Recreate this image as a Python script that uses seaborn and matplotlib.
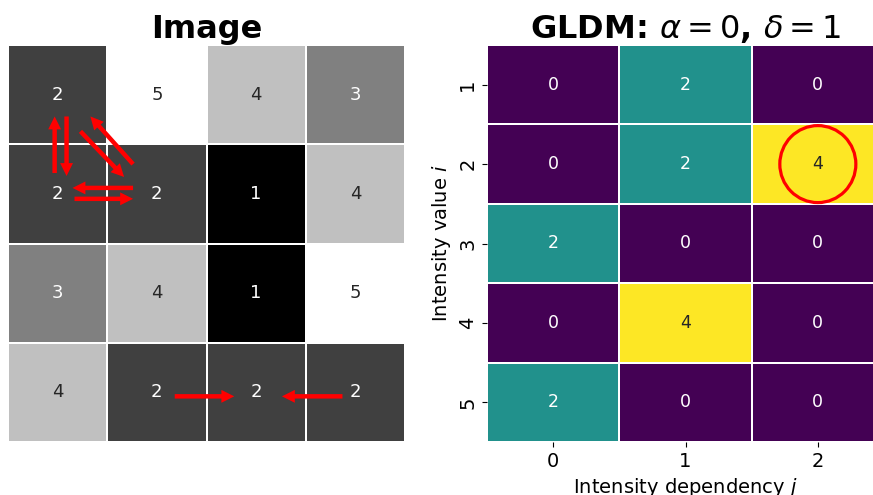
import numpy as np
import pandas as pd
import seaborn as sns
import matplotlib
matplotlib.use("Agg")
import matplotlib.pyplot as plt
from matplotlib.patches import Ellipse

# 4x4 grey-level image
image = [
    [2, 5, 4, 3],
    [2, 2, 1, 4],
    [3, 4, 1, 5],
    [4, 2, 2, 2],
]

# Grey level dependence matrix (alpha = 0, delta = 1)
intensity_values = [1, 2, 3, 4, 5]
dependency_values = [0, 1, 2]
gldm = [
    [0, 2, 0],
    [0, 2, 4],
    [2, 0, 0],
    [0, 4, 0],
    [2, 0, 0],
]

# dependency arrows in the image: (x0, y0, x1, y1) in cell units
arrows = [
    (0.47, 1.29, 0.47, 0.72),
    (0.59, 0.72, 0.59, 1.32),
    (1.26, 1.20, 0.83, 0.72),
    (0.73, 0.87, 1.17, 1.33),
    (1.26, 1.44, 0.65, 1.44),
    (0.67, 1.55, 1.26, 1.55),
    (1.68, 3.54, 2.28, 3.54),
    (3.37, 3.54, 2.76, 3.54),
]

fig = plt.figure(figsize=(8.73, 4.95), dpi=100)
W, H = 873, 495
ax1 = fig.add_axes([8 / W, (H - 442) / H, 397 / W, 397 / H])
ax2 = fig.add_axes([487 / W, (H - 442) / H, 397 / W, 397 / H])

sns.heatmap(np.array(image), ax=ax1, cmap="gray", vmin=1, vmax=5,
            annot=True, fmt="d", annot_kws={"fontsize": 13},
            linewidths=1.2, linecolor="white", cbar=False,
            xticklabels=False, yticklabels=False)
ax1.set_title("Image", fontsize=23, fontweight="bold", pad=5)

for x0, y0, x1, y1 in arrows:
    ax1.arrow(x0, y0, x1 - x0, y1 - y0, width=0.045, head_width=0.13,
              head_length=0.13, length_includes_head=True,
              color="red", linewidth=0, zorder=5)

gldm_df = pd.DataFrame(gldm, index=intensity_values, columns=dependency_values)
sns.heatmap(gldm_df, ax=ax2, cmap="viridis", annot=True, fmt="d",
            annot_kws={"fontsize": 12.5}, linewidths=1.2, linecolor="white",
            cbar=False)
ax2.set_title(r"GLDM: $\alpha=0$, $\delta=1$", fontsize=23,
              fontweight="bold", pad=5)
ax2.set_xlabel(r"Intensity dependency $j$", fontsize=14)
ax2.set_ylabel(r"Intensity value $i$", fontsize=14)
ax2.tick_params(labelsize=14)
plt.setp(ax2.get_yticklabels(), rotation=90, va="center")
plt.setp(ax2.get_xticklabels(), rotation=0)

# circle the count of the highlighted cell
r, c = 1, 2
ax2.add_patch(Ellipse((c + 0.5, r + 0.5), width=76 / 132.3, height=77 / 79.4,
                      fill=False, edgecolor="red", linewidth=2.3, zorder=5))

fig.savefig("out.png", dpi=100)
